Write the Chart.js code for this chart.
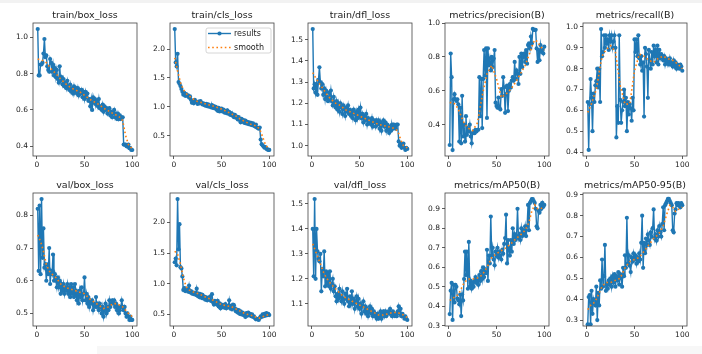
<!DOCTYPE html>
<html>
<head>
<meta charset="utf-8">
<script src="https://cdn.jsdelivr.net/npm/chart.js@4.4.1/dist/chart.umd.min.js"></script>
<style>
  body { margin: 0; background: #fff; width: 702px; height: 354px; overflow: hidden; position: relative; }
  canvas { position: absolute; }
  .strip { position: absolute; background: #f2f2f2; }
</style>
</head>
<body>
<div class="strip" style="left:0;top:0;width:702px;height:3px"></div>
<div class="strip" style="left:97px;top:346px;width:605px;height:8px;background:#f7f7f7"></div>
<script>
// epochs on the x axis
const epochs = [1,2,3,4,5,6,7,8,9,10,11,12,13,14,15,16,17,18,19,20,
  21,22,23,24,25,26,27,28,29,30,31,32,33,34,35,36,37,38,39,40,
  41,42,43,44,45,46,47,48,49,50,51,52,53,54,55,56,57,58,59,60,
  61,62,63,64,65,66,67,68,69,70,71,72,73,74,75,76,77,78,79,80,
  81,82,83,84,85,86,87,88,89,90,91,92,93,94,95,96,97,98,99,100];
const smoothEpochs = [1,4,7,10,13,16,20,25,30,35,40,45,50,55,60,65,70,75,80,84,87,90,93,96,100];

const titles = ['train/box_loss', 'train/cls_loss', 'train/dfl_loss', 'metrics/precision(B)', 'metrics/recall(B)',
  'val/box_loss', 'val/cls_loss', 'val/dfl_loss', 'metrics/mAP50(B)', 'metrics/mAP50-95(B)'];
const seriesLabels = ['results', 'smooth'];

const trainBoxLoss = [1.045,0.79,0.79,0.85,0.85,0.86,0.91,0.99,0.89,0.90,
  0.84,0.82,0.81,0.88,0.86,0.81,0.85,0.79,0.83,0.78,
  0.82,0.77,0.75,0.84,0.76,0.78,0.74,0.77,0.73,0.75,
  0.72,0.76,0.73,0.71,0.74,0.70,0.72,0.69,0.73,0.70,
  0.72,0.69,0.72,0.68,0.71,0.69,0.71,0.67,0.70,0.66,
  0.70,0.67,0.69,0.65,0.66,0.62,0.66,0.60,0.67,0.64,
  0.66,0.63,0.65,0.62,0.66,0.61,0.62,0.60,0.63,0.59,
  0.62,0.60,0.61,0.58,0.60,0.61,0.57,0.59,0.56,0.58,
  0.60,0.56,0.58,0.55,0.58,0.55,0.57,0.55,0.56,0.56,
  0.41,0.41,0.41,0.40,0.40,0.41,0.39,0.39,0.38,0.38];
const trainBoxSmooth = [0.88,0.875,0.87,0.86,0.84,0.82,0.80,0.77,0.745,0.725,0.71,0.70,0.68,0.66,0.645,0.63,0.61,0.595,0.58,0.57,0.56,0.54,0.46,0.41,0.385];

const trainClsLoss = [2.35,1.77,1.70,1.92,1.43,1.40,1.36,1.31,1.26,1.21,
  1.24,1.19,1.22,1.19,1.20,1.16,1.18,1.12,1.07,1.10,
  1.06,1.12,1.09,1.08,1.05,1.09,1.06,1.10,1.07,1.04,
  1.06,1.03,1.02,1.05,1.01,1.04,1.00,1.02,0.99,1.03,
  0.98,1.01,0.97,1.00,0.95,0.93,0.98,0.92,0.95,0.97,
  0.92,0.95,0.90,0.93,0.89,0.94,0.88,0.91,0.86,0.89,
  0.85,0.87,0.82,0.86,0.81,0.83,0.78,0.82,0.77,0.73,
  0.79,0.74,0.77,0.72,0.76,0.71,0.74,0.70,0.73,0.69,
  0.72,0.68,0.71,0.67,0.66,0.69,0.64,0.63,0.62,0.64,
  0.43,0.35,0.33,0.31,0.29,0.30,0.27,0.26,0.25,0.25];
const trainClsSmooth = [1.85,1.62,1.42,1.30,1.23,1.19,1.14,1.09,1.07,1.04,1.02,0.99,0.96,0.92,0.88,0.84,0.78,0.74,0.70,0.68,0.66,0.61,0.48,0.34,0.26];

const trainDflLoss = [1.55,1.27,1.29,1.25,1.29,1.24,1.31,1.37,1.30,1.27,
  1.29,1.24,1.27,1.22,1.26,1.23,1.21,1.25,1.22,1.26,
  1.21,1.19,1.23,1.20,1.18,1.21,1.17,1.20,1.16,1.20,
  1.18,1.15,1.19,1.17,1.14,1.18,1.16,1.19,1.15,1.17,
  1.14,1.16,1.13,1.17,1.15,1.12,1.16,1.13,1.17,1.14,
  1.18,1.13,1.15,1.11,1.14,1.12,1.15,1.10,1.13,1.11,
  1.12,1.10,1.13,1.09,1.11,1.12,1.09,1.12,1.10,1.12,
  1.08,1.11,1.07,1.10,1.12,1.09,1.11,1.07,1.10,1.08,
  1.06,1.09,1.07,1.10,1.08,1.10,1.09,1.08,1.10,1.10,
  1.02,1.00,1.01,0.99,1.00,1.01,0.99,0.98,0.99,0.985];
const trainDflSmooth = [1.345,1.32,1.30,1.28,1.26,1.24,1.22,1.20,1.19,1.17,1.16,1.15,1.14,1.13,1.12,1.11,1.10,1.095,1.09,1.085,1.08,1.07,1.03,1.00,0.99];

const precision = [0.28,0.82,0.68,0.25,0.55,0.58,0.55,0.54,0.55,0.52,
  0.30,0.50,0.29,0.57,0.33,0.40,0.30,0.45,0.34,0.38,
  0.36,0.40,0.33,0.29,0.35,0.36,0.35,0.37,0.36,0.37,
  0.37,0.68,0.45,0.67,0.38,0.67,0.84,0.69,0.85,0.44,
  0.85,0.75,0.79,0.72,0.80,0.74,0.79,0.84,0.53,0.51,
  0.50,0.56,0.50,0.49,0.61,0.57,0.68,0.62,0.47,0.58,
  0.63,0.48,0.60,0.64,0.62,0.66,0.68,0.66,0.77,0.67,
  0.72,0.70,0.64,0.80,0.70,0.82,0.74,0.80,0.82,0.77,
  0.84,0.76,0.87,0.88,0.85,0.92,0.88,0.965,0.96,0.96,
  0.96,0.85,0.77,0.84,0.78,0.87,0.83,0.84,0.82,0.86];
const precisionSmooth = [0.53,0.53,0.52,0.49,0.45,0.41,0.38,0.365,0.41,0.57,0.70,0.75,0.67,0.56,0.58,0.61,0.65,0.70,0.75,0.81,0.86,0.90,0.89,0.86,0.84];

const recall = [0.64,0.41,0.63,0.75,0.66,0.50,0.68,0.64,0.72,0.74,
  0.80,0.71,0.80,0.64,0.99,0.86,0.88,0.96,0.90,0.96,
  0.92,0.94,0.89,0.96,0.93,0.96,0.90,0.93,0.96,0.90,
  0.47,0.62,0.54,0.96,0.65,0.54,0.60,0.64,0.70,0.62,
  0.66,0.50,0.64,0.58,0.63,0.61,0.55,0.66,0.60,0.94,
  0.88,0.94,0.86,0.96,0.85,0.82,0.86,0.79,0.83,0.57,
  0.90,0.87,0.81,0.66,0.89,0.84,0.80,0.88,0.82,0.91,
  0.86,0.89,0.83,0.91,0.82,0.89,0.85,0.87,0.86,0.84,
  0.86,0.82,0.85,0.83,0.84,0.82,0.85,0.82,0.83,0.81,
  0.84,0.81,0.83,0.80,0.82,0.81,0.80,0.82,0.81,0.79];
const recallSmooth = [0.59,0.62,0.66,0.70,0.78,0.86,0.89,0.91,0.88,0.72,0.63,0.63,0.79,0.87,0.86,0.84,0.83,0.85,0.86,0.85,0.845,0.84,0.83,0.82,0.80];

const valBoxLoss = [0.82,0.63,0.83,0.62,0.85,0.67,0.76,0.64,0.65,0.60,
  0.65,0.62,0.70,0.59,0.63,0.62,0.68,0.60,0.62,0.60,
  0.58,0.61,0.58,0.60,0.56,0.59,0.57,0.59,0.56,0.58,
  0.57,0.59,0.56,0.58,0.55,0.59,0.56,0.58,0.55,0.59,
  0.57,0.54,0.56,0.53,0.57,0.55,0.58,0.54,0.56,0.61,
  0.54,0.56,0.53,0.55,0.52,0.54,0.53,0.54,0.51,0.53,
  0.52,0.55,0.52,0.53,0.51,0.53,0.52,0.50,0.52,0.49,
  0.51,0.53,0.50,0.52,0.51,0.54,0.52,0.53,0.54,0.53,
  0.54,0.52,0.53,0.51,0.52,0.50,0.51,0.52,0.54,0.52,
  0.51,0.52,0.50,0.49,0.50,0.49,0.48,0.49,0.48,0.48];
const valBoxSmooth = [0.74,0.72,0.69,0.65,0.63,0.62,0.61,0.59,0.58,0.575,0.57,0.565,0.56,0.545,0.535,0.525,0.515,0.52,0.53,0.53,0.525,0.52,0.51,0.50,0.49];

const valClsLoss = [1.35,1.41,1.30,2.38,1.56,1.97,1.27,1.25,1.12,0.90,
  0.93,0.88,0.92,0.90,0.87,0.97,0.86,0.88,0.84,0.86,
  0.83,0.85,0.82,0.92,0.80,0.84,0.78,0.83,0.77,0.82,
  0.76,0.79,0.74,0.78,0.73,0.77,0.74,0.79,0.72,0.83,
  0.70,0.66,0.72,0.68,0.66,0.72,0.63,0.68,0.60,0.66,
  0.62,0.65,0.61,0.67,0.60,0.64,0.62,0.73,0.60,0.64,
  0.58,0.66,0.65,0.60,0.55,0.58,0.53,0.57,0.51,0.55,
  0.50,0.53,0.49,0.51,0.46,0.52,0.48,0.53,0.49,0.51,
  0.47,0.50,0.46,0.47,0.44,0.42,0.43,0.42,0.41,0.44,
  0.47,0.46,0.50,0.47,0.51,0.48,0.52,0.49,0.51,0.49];
const valClsSmooth = [1.53,1.48,1.32,1.10,0.95,0.90,0.87,0.84,0.81,0.77,0.74,0.70,0.66,0.64,0.63,0.59,0.55,0.51,0.49,0.47,0.45,0.44,0.46,0.48,0.50];

const valDflLoss = [1.40,1.21,1.52,1.20,1.40,1.31,1.28,1.27,1.30,1.15,
  1.24,1.21,1.31,1.17,1.23,1.18,1.22,1.17,1.23,1.16,
  1.18,1.20,1.15,1.17,1.13,1.11,1.14,1.12,1.16,1.13,
  1.11,1.15,1.12,1.10,1.14,1.12,1.16,1.11,1.09,1.13,
  1.10,1.15,1.10,1.12,1.08,1.11,1.13,1.09,1.12,1.08,
  1.10,1.06,1.09,1.11,1.07,1.09,1.06,1.08,1.05,1.07,
  1.09,1.06,1.08,1.05,1.07,1.05,1.06,1.04,1.06,1.04,
  1.05,1.07,1.04,1.06,1.07,1.05,1.07,1.05,1.06,1.07,
  1.06,1.08,1.06,1.05,1.07,1.06,1.05,1.06,1.05,1.07,
  1.09,1.06,1.08,1.05,1.06,1.05,1.04,1.05,1.04,1.035];
const valDflSmooth = [1.34,1.31,1.28,1.25,1.22,1.20,1.18,1.16,1.14,1.125,1.115,1.105,1.095,1.085,1.075,1.065,1.055,1.055,1.06,1.065,1.065,1.065,1.06,1.055,1.045];

const mAP50 = [0.36,0.48,0.52,0.33,0.51,0.42,0.51,0.50,0.44,0.43,
  0.41,0.46,0.35,0.46,0.43,0.54,0.68,0.56,0.68,0.49,
  0.73,0.50,0.53,0.49,0.52,0.50,0.53,0.55,0.52,0.54,
  0.51,0.56,0.53,0.58,0.54,0.60,0.55,0.59,0.57,0.69,
  0.53,0.66,0.62,0.86,0.66,0.70,0.64,0.61,0.68,0.66,
  0.70,0.65,0.68,0.66,0.64,0.69,0.67,0.72,0.75,0.87,
  0.62,0.74,0.70,0.66,0.74,0.68,0.80,0.72,0.77,0.74,
  0.76,0.90,0.75,0.77,0.74,0.80,0.76,0.79,0.77,0.81,
  0.76,0.81,0.92,0.79,0.93,0.94,0.95,0.95,0.94,0.93,
  0.90,0.81,0.80,0.89,0.88,0.92,0.90,0.93,0.91,0.92];
const mAP50Smooth = [0.43,0.44,0.45,0.46,0.49,0.52,0.54,0.54,0.545,0.56,0.60,0.65,0.67,0.685,0.70,0.72,0.745,0.765,0.79,0.83,0.89,0.92,0.90,0.90,0.91];

const mAP5095 = [0.28,0.41,0.42,0.28,0.44,0.33,0.40,0.38,0.37,0.46,
  0.30,0.43,0.37,0.49,0.45,0.59,0.46,0.51,0.66,0.44,
  0.47,0.45,0.49,0.47,0.50,0.46,0.51,0.48,0.52,0.46,
  0.51,0.49,0.53,0.47,0.52,0.50,0.46,0.55,0.51,0.61,
  0.55,0.79,0.57,0.61,0.56,0.53,0.60,0.58,0.62,0.59,
  0.61,0.57,0.60,0.58,0.62,0.59,0.67,0.80,0.55,0.67,
  0.62,0.69,0.66,0.71,0.68,0.66,0.72,0.70,0.74,0.83,
  0.69,0.71,0.68,0.73,0.70,0.75,0.72,0.70,0.76,0.84,
  0.73,0.85,0.86,0.87,0.88,0.88,0.87,0.86,0.85,0.73,
  0.72,0.81,0.83,0.86,0.85,0.86,0.85,0.84,0.86,0.85];
const mAP5095Smooth = [0.35,0.37,0.38,0.40,0.43,0.46,0.48,0.48,0.49,0.50,0.55,0.58,0.59,0.60,0.63,0.66,0.69,0.71,0.75,0.81,0.85,0.84,0.82,0.83,0.84];

const xTicks = [0, 50, 100];
const yTicks = [
  [0.4, 0.6, 0.8, 1.0], [0.5, 1.0, 1.5, 2.0], [1.0, 1.1, 1.2, 1.3, 1.4, 1.5], [0.4, 0.6, 0.8, 1.0], [0.4, 0.5, 0.6, 0.7, 0.8, 0.9, 1.0],
  [0.5, 0.6, 0.7, 0.8], [0.5, 1.0, 1.5, 2.0], [1.1, 1.2, 1.3, 1.4, 1.5], [0.3, 0.4, 0.5, 0.6, 0.7, 0.8, 0.9], [0.3, 0.4, 0.5, 0.6, 0.7, 0.8, 0.9]
];
const yRanges = [
  [0.347, 1.078], [0.145, 2.455], [0.9515, 1.5785], [0.215, 1.0], [0.381, 1.019],
  [0.4615, 0.8685], [0.3115, 2.4785], [1.011, 1.544], [0.299, 0.981], [0.2715, 0.9085]
];
const results = [trainBoxLoss, trainClsLoss, trainDflLoss, precision, recall, valBoxLoss, valClsLoss, valDflLoss, mAP50, mAP5095];
const smooths = [trainBoxSmooth, trainClsSmooth, trainDflSmooth, precisionSmooth, recallSmooth, valBoxSmooth, valClsSmooth, valDflSmooth, mAP50Smooth, mAP5095Smooth];

const colLeft = [33, 170, 308, 445, 583];
const rowTop = [23, 193];
const BOX_W = 104, BOX_H = 133, Y_AXIS_W = 32, X_AXIS_H = 20, TOP = 23, RIGHT = 10;

Chart.defaults.font.family = '"DejaVu Sans", sans-serif';
Chart.defaults.color = '#222';

// matplotlib style frame round the plot area
const frame = {
  id: 'frame',
  afterDatasetsDraw(chart) {
    const {ctx, chartArea: a} = chart;
    ctx.save();
    ctx.strokeStyle = '#444';
    ctx.lineWidth = 0.8;
    ctx.strokeRect(a.left, a.top, a.width, a.height);
    ctx.restore();
  }
};

// legend box inside the plot, upper right
const legendBox = {
  id: 'legendBox',
  afterDraw(chart) {
    const {ctx, chartArea} = chart;
    const w = 65, h = 25;
    const x = chartArea.right - 3 - w, y = chartArea.top + 5;
    ctx.save();
    ctx.beginPath();
    ctx.roundRect(x, y, w, h, 2);
    ctx.fillStyle = 'rgba(255,255,255,0.8)';
    ctx.fill();
    ctx.strokeStyle = '#cccccc';
    ctx.lineWidth = 0.8;
    ctx.stroke();
    chart.data.datasets.forEach((ds, k) => {
      const ly = y + 5.5 + k * 14;
      ctx.strokeStyle = ds.borderColor;
      ctx.lineWidth = ds.borderWidth;
      ctx.setLineDash(ds.borderDash || []);
      ctx.beginPath();
      ctx.moveTo(x + 2, ly);
      ctx.lineTo(x + 25, ly);
      ctx.stroke();
      ctx.setLineDash([]);
      if (ds.pointRadius) {
        ctx.fillStyle = ds.borderColor;
        ctx.beginPath();
        ctx.arc(x + 13.5, ly, ds.pointRadius, 0, Math.PI * 2);
        ctx.fill();
      }
      ctx.fillStyle = '#222';
      ctx.font = '8px "DejaVu Sans"';
      ctx.textBaseline = 'middle';
      ctx.fillText(ds.label, x + 28, ly + 0.5);
    });
    ctx.restore();
  }
};

function makePanel(i) {
  const col = i % 5, row = Math.floor(i / 5);
  const canvas = document.createElement('canvas');
  canvas.width = Y_AXIS_W + BOX_W + RIGHT;
  canvas.height = TOP + BOX_H + X_AXIS_H;
  canvas.style.left = (colLeft[col] - Y_AXIS_W) + 'px';
  canvas.style.top = (rowTop[row] - TOP) + 'px';
  document.body.appendChild(canvas);

  const plugins = [frame];
  if (i === 1) plugins.push(legendBox);

  new Chart(canvas, {
    type: 'line',
    plugins,
    data: {
      datasets: [{
        label: seriesLabels[0],
        data: epochs.map((e, k) => ({x: e, y: results[i][k]})),
        borderColor: '#1f77b4',
        backgroundColor: '#1f77b4',
        borderWidth: 1.4,
        pointRadius: 2.1,
        pointBorderWidth: 0,
        pointBackgroundColor: '#1f77b4',
        order: 1
      }, {
        label: seriesLabels[1],
        data: smoothEpochs.map((e, k) => ({x: e, y: smooths[i][k]})),
        borderColor: '#ff7f0e',
        borderWidth: 1.6,
        borderDash: [1.6, 2.6],
        pointRadius: 0,
        order: 0
      }]
    },
    options: {
      responsive: false,
      animation: false,
      devicePixelRatio: 1,
      layout: { padding: { left: 0, top: 0, right: RIGHT, bottom: 0 } },
      plugins: {
        legend: { display: false },
        tooltip: { enabled: false },
        title: {
          display: true,
          fullSize: false,
          text: titles[i],
          color: '#222',
          font: { size: 9.5, weight: 'normal', lineHeight: 1.2 },
          padding: { top: 10, bottom: 1.6 }
        }
      },
      scales: {
        x: {
          type: 'linear',
          min: -3.95,
          max: 104.95,
          afterBuildTicks: s => { s.ticks = xTicks.map(v => ({value: v})); },
          afterFit: s => { s.height = X_AXIS_H; },
          grid: { display: true, drawOnChartArea: false, drawTicks: true, tickLength: 3, color: '#333', lineWidth: 0.8 },
          border: { display: false },
          ticks: { autoSkip: false, maxRotation: 0, padding: 2, font: { size: 7.5 }, callback: v => String(v) }
        },
        y: {
          min: yRanges[i][0],
          max: yRanges[i][1],
          afterBuildTicks: s => { s.ticks = yTicks[i].map(v => ({value: v})); },
          afterFit: s => { s.width = Y_AXIS_W; },
          grid: { display: true, drawOnChartArea: false, drawTicks: true, tickLength: 3, color: '#333', lineWidth: 0.8 },
          border: { display: false },
          ticks: { autoSkip: false, padding: 2, font: { size: 7.5 }, callback: v => v.toFixed(1) }
        }
      }
    }
  });
}

for (let i = 0; i < titles.length; i++) makePanel(i);
</script>
</body>
</html>
